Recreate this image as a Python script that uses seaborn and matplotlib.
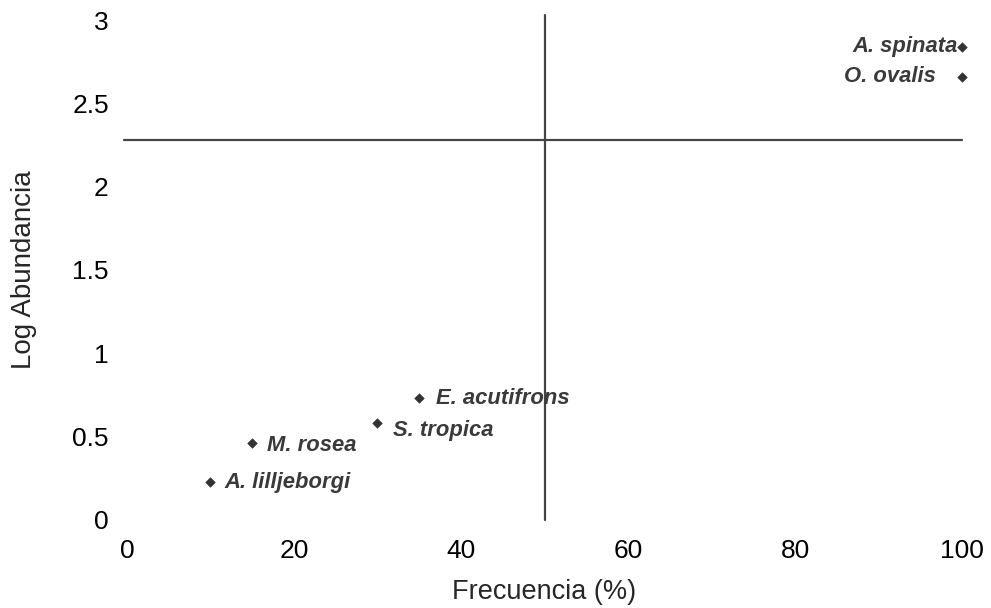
import pandas as pd
import matplotlib.pyplot as plt
import seaborn as sns

# data
species = ['A. spinata', 'O. ovalis', 'E. acutifrons', 'S. tropica', 'M. rosea', 'A. lilljeborgi']
frecuencia = [100, 100, 35, 30, 15, 10]
log_abundancia = [2.84, 2.66, 0.73, 0.58, 0.46, 0.23]
x_ticks = [0, 20, 40, 60, 80, 100]
y_ticks = [0, 0.5, 1, 1.5, 2, 2.5, 3]
y_tick_labels = ['0', '0.5', '1', '1.5', '2', '2.5', '3']
x_cut = 50
y_cut = 2.28

# label offsets in points (dx, dy, alignment)
label_offsets = {
    'A. spinata': (-3.5, 0, 'right'),
    'O. ovalis': (-19, 0, 'right'),
    'E. acutifrons': (12, 0, 'left'),
    'S. tropica': (11, -5, 'left'),
    'M. rosea': (11, -1.5, 'left'),
    'A. lilljeborgi': (10, -0.5, 'left'),
}

data = pd.DataFrame({'species': species, 'freq': frecuencia, 'logab': log_abundancia})

sns.set_style("white")
plt.rcParams['font.family'] = ['Liberation Sans', 'DejaVu Sans']

fig = plt.figure(figsize=(9.91, 6.08), dpi=100)
ax = fig.add_axes([0.128, 0.145, 0.843, 0.822])

sns.scatterplot(data=data, x='freq', y='logab', marker='D', s=24, color='#333333',
                edgecolor='#333333', ax=ax, zorder=3, clip_on=False)

# crosshair lines
ax.plot([x_cut, x_cut], [0, 3.03], color='#444444', lw=1.6, clip_on=False)
ax.plot([-0.3, 100], [y_cut, y_cut], color='#444444', lw=1.6, clip_on=False)

# species labels
for sp, x, y in zip(species, frecuencia, log_abundancia):
    dx, dy, ha = label_offsets[sp]
    ax.annotate(sp, (x, y), xytext=(dx, dy), textcoords='offset points',
                ha=ha, va='center', fontsize=15.8, fontstyle='italic',
                fontweight='bold', color='#3a3a3a', annotation_clip=False)

ax.set_xlim(0, 100)
ax.set_ylim(0, 3)
ax.set_xticks(x_ticks)
ax.set_yticks(y_ticks)
ax.set_yticklabels(y_tick_labels)
ax.tick_params(axis='both', length=0, labelsize=19, colors='black')
ax.tick_params(axis='x', pad=14)
ax.tick_params(axis='y', pad=13)
ax.set_xlabel('Frecuencia (%)', fontsize=19.5, labelpad=11)
ax.set_ylabel('Log Abundancia', fontsize=20, labelpad=25)
sns.despine(ax=ax, left=True, bottom=True)

plt.savefig('out.png', dpi=100)
plt.close()
